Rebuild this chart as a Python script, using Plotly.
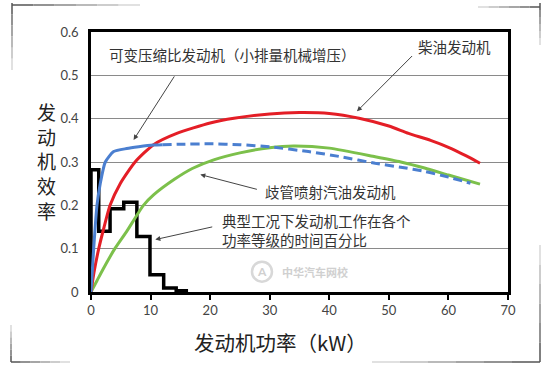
import plotly.graph_objects as go

# ---------------- data ----------------
# Engine efficiency curves (x: engine power kW, y: efficiency)
diesel_x = [0, 0.5, 1.3, 2.2, 3.2, 4.9, 7.4, 10.5, 14.4, 20, 24, 30, 35, 40, 45, 50, 53.3, 57, 60, 63, 65.3]
diesel_y = [0, 0.045, 0.1, 0.15, 0.2, 0.25, 0.3, 0.34, 0.366, 0.39, 0.401, 0.411, 0.414, 0.412, 0.401, 0.383, 0.366, 0.35, 0.334, 0.314, 0.297]

pfi_x = [0, 1, 2, 4, 6, 8.8, 10.5, 14, 17, 20.6, 25, 30, 34, 40, 47.7, 52, 56, 60, 65.3]
pfi_y = [0, 0.026, 0.052, 0.1, 0.14, 0.2, 0.224, 0.26, 0.285, 0.305, 0.321, 0.333, 0.337, 0.332, 0.312, 0.3, 0.286, 0.27, 0.249]

vcr_solid_x = [0, 0.45, 1.0, 1.55, 2.4, 3.8, 6, 8, 10.5, 12]
vcr_solid_y = [0, 0.1, 0.2, 0.25, 0.3, 0.324, 0.331, 0.335, 0.339, 0.34]
vcr_dash_x = [12, 15, 20, 25, 30, 36.5, 42, 47.7, 52, 56.1, 60, 63.7]
vcr_dash_y = [0.34, 0.341, 0.342, 0.34, 0.335, 0.324, 0.312, 0.297, 0.288, 0.278, 0.265, 0.251]

# Time share histogram (bin edges in kW, share of time)
bin_edges = [0, 1.3, 3.2, 5.5, 7.7, 9.9, 12.2, 14.3, 16]
time_share = [0.282, 0.14, 0.192, 0.207, 0.128, 0.04, 0.009, 0.003]

x_ticks = [0, 10, 20, 30, 40, 50, 60, 70]
y_ticks = [0, 0.1, 0.2, 0.3, 0.4, 0.5, 0.6]
y_tick_labels = ["0", "0.1", "0.2", "0.3", "0.4", "0.5", "0.6"]

# ---------------- figure ----------------
RED = "#e41e26"
GREEN = "#7cc04b"
BLUE = "#4b7fd0"
CJK = "Noto Sans CJK SC"
NUM = "Lato, Noto Sans, sans-serif"

fig = go.Figure()

hist_x = [0] + bin_edges
hist_y = [0] + time_share + [0]
fig.add_trace(go.Scatter(x=hist_x, y=hist_y, mode="lines", line=dict(color="black", width=3.5, shape="hv"),
                         hoverinfo="skip"))
fig.add_trace(go.Scatter(x=pfi_x, y=pfi_y, mode="lines", line=dict(color=GREEN, width=3, shape="spline", smoothing=0.6)))
fig.add_trace(go.Scatter(x=diesel_x, y=diesel_y, mode="lines", line=dict(color=RED, width=3, shape="spline", smoothing=0.6)))
fig.add_trace(go.Scatter(x=vcr_solid_x, y=vcr_solid_y, mode="lines", line=dict(color=BLUE, width=3, shape="spline", smoothing=0.6)))
fig.add_trace(go.Scatter(x=vcr_dash_x, y=vcr_dash_y, mode="lines", line=dict(color=BLUE, width=3, dash="9px,5px", shape="spline", smoothing=0.6)))

L, R, T, B = 91, 42, 32, 77
W, H = 550, 369
PW, PH = W - L - R, H - T - B


def px(xp):
    return (xp - L) / PW


def py(yp):
    return (H - B - yp) / PH


text_font = dict(family=CJK, size=14.5, color="#333333")
arrow_kw = dict(showarrow=True, arrowhead=2, arrowsize=1, arrowwidth=1, arrowcolor="#444444",
                axref="x", ayref="y", text="")

annotations = [
    dict(x=23.8, y=0.548, text="可变压缩比发动机（小排量机械增压）", showarrow=False, xanchor="center", font=text_font),
    dict(x=61.1, y=0.566, text="柴油发动机", showarrow=False, xanchor="center", font=text_font),
    dict(x=40.25, y=0.232, text="歧管喷射汽油发动机", showarrow=False, xanchor="center", font=text_font),
    dict(x=21.7, y=0.142, text="典型工况下发动机工作在各个<br>功率等级的时间百分比", showarrow=False,
         xanchor="left", align="left", font=text_font),
    dict(x=7.15, y=0.351, ax=14.15, ay=0.501, **arrow_kw),
    dict(x=44.65, y=0.417, ax=54.15, ay=0.548, **arrow_kw),
    dict(x=18.35, y=0.271, ax=28.1, ay=0.236, **arrow_kw),
    dict(x=10.8, y=0.121, ax=20.6, ay=0.151, **arrow_kw),
    # watermark
    dict(x=31.8, y=0.047, text="<b>中华汽车网校</b>", showarrow=False, xanchor="left",
         font=dict(family=CJK, size=11, color="#d0d0d0")),
    dict(x=28.7, y=0.047, text="<b>A</b>", showarrow=False, xanchor="center",
         font=dict(family="Lato", size=12, color="#d0d0d0")),
    # y title, stacked
    dict(xref="paper", yref="paper", x=px(46), y=py(160.5), text="发<br>动<br>机<br>效<br>率",
         showarrow=False, xanchor="center", yanchor="middle",
         font=dict(family=CJK, size=19, color="#222222")),
    # x title
    dict(xref="paper", yref="paper", x=px(280.5), y=py(342), text="发动机功率（kW）",
         showarrow=False, xanchor="center", yanchor="middle",
         font=dict(family=CJK, size=20.5, color="#222222")),
]

shapes = [
    dict(type="circle", xref="x", yref="y", xsizemode="pixel", ysizemode="pixel",
         xanchor=28.7, yanchor=0.047, x0=-10, x1=10, y0=-10, y1=10,
         line=dict(color="#d8d8d8", width=2.5), layer="below"),
]


def fade_line(x0, y0, x1, y1, n=6, dark=0x55, light=0xf2, width=1.5):
    for i in range(n):
        a = i / n
        b = (i + 1) / n
        c = int(dark + (light - dark) * a)
        col = "#%02x%02x%02x" % (c, c, c)
        shapes.append(dict(type="line", xref="paper", yref="paper",
                           x0=px(x0 + (x1 - x0) * a), y0=py(y0 + (y1 - y0) * a),
                           x1=px(x0 + (x1 - x0) * b), y1=py(y0 + (y1 - y0) * b),
                           line=dict(color=col, width=width)))


# decorative corner frame lines (from corner outward)
fade_line(12, 5, 140, 5)
fade_line(12, 3, 12, 70)
fade_line(540, 7, 478, 7)
fade_line(540, 3, 540, 45)
fade_line(11, 362, 70, 362)
fade_line(11, 362, 11, 325)
fade_line(540, 362, 372, 362)
fade_line(540, 362, 540, 245)

fig.update_layout(
    width=W, height=H,
    margin=dict(l=L, r=R, t=T, b=B, pad=0),
    paper_bgcolor="white", plot_bgcolor="white",
    showlegend=False,
    annotations=annotations,
    shapes=shapes,
    xaxis=dict(range=[0, 70], tickvals=x_ticks, showgrid=False, zeroline=False,
               showline=True, linecolor="black", linewidth=2.5, mirror=True,
               ticks="outside", ticklen=5, tickwidth=2, tickcolor="black",
               tickfont=dict(family=NUM, size=13, color="#444444")),
    yaxis=dict(range=[0, 0.6], tickvals=y_ticks, ticktext=y_tick_labels, showgrid=True,
               gridcolor="#8a8a8a", gridwidth=1, zeroline=False,
               showline=True, linecolor="black", linewidth=2.5, mirror=True,
               ticks="", ticklabelstandoff=7,
               tickfont=dict(family=NUM, size=13, color="#444444")),
)

fig.write_html("out.html", config={"displayModeBar": False},
               post_script="document.body.style.margin='0';document.body.style.overflow='hidden';")
